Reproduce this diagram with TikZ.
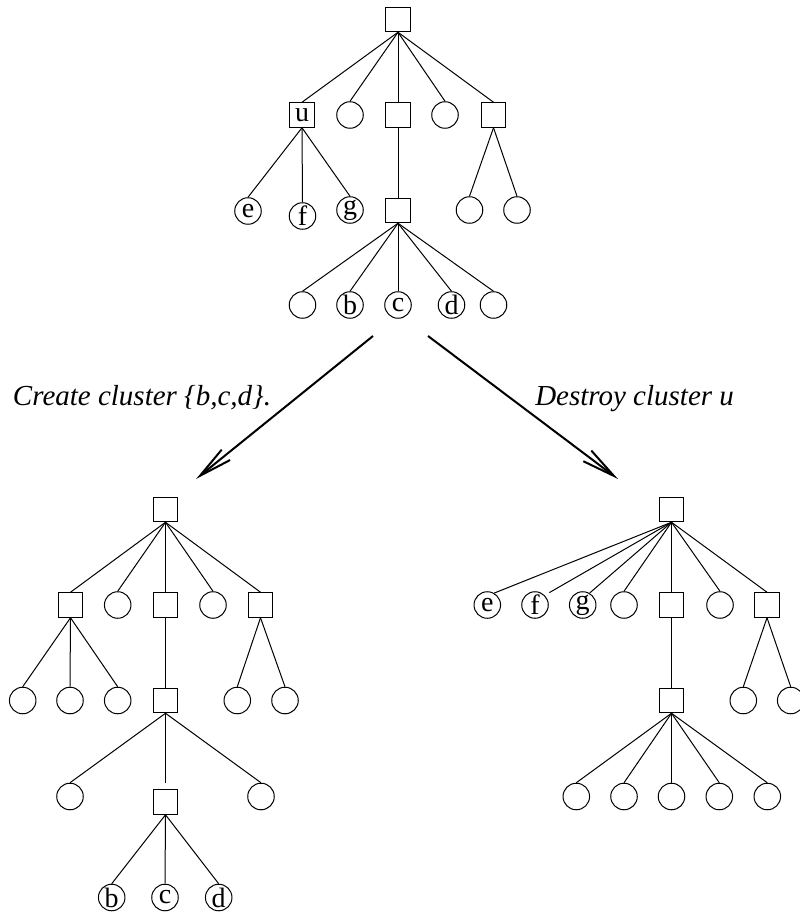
\documentclass[tikz,border=0pt]{standalone}
\usepackage{fontspec}
\setmainfont{Liberation Serif}
\newfontfamily\treefont{Liberation Serif}
\usetikzlibrary{arrows.meta}

\tikzset{
  leaf/.style={draw, line width=0.75pt, circle, minimum size=19.9pt, inner sep=0pt,
    font=\treefont\fontsize{21pt}{21pt}\selectfont},
  clus/.style={draw, line width=0.75pt, rectangle, minimum size=18.4pt, inner sep=0pt,
    font=\treefont\fontsize{21pt}{21pt}\selectfont},
  edge/.style={line width=0.75pt},
  flow/.style={line width=1.5pt, -{Straight Barb[length=25pt,width=10pt,line width=1.5pt]}},
  lbl/.style={font=\treefont\fontsize{21.75pt}{24pt}\selectfont\itshape, inner sep=0pt, anchor=base west}
}

\begin{document}
\begin{tikzpicture}[x=0.75pt, y=-0.75pt]
  \useasboundingbox (0,0) rectangle (799,916);

  % top tree
  \node[clus] (t) at (398,19.5) {};
  \node[clus] (tu) at (302,115) {u};
  \node[leaf] (t1) at (350,115) {};
  \node[clus] (t2) at (398,115) {};
  \node[leaf] (t3) at (445,115) {};
  \node[clus] (t4) at (493.5,115) {};
  \node[leaf] (te) at (248,211) {e};
  \node[leaf] (tf) at (302.5,216) {f};
  \node[leaf] (tg) at (350,210) {g};
  \node[clus] (t5) at (398,210.5) {};
  \node[leaf] (t6) at (469.5,210) {};
  \node[leaf] (t7) at (517,210) {};
  \node[leaf] (t8) at (302.5,305) {};
  \node[leaf] (tb) at (350,305) {b};
  \node[leaf] (tc) at (398,305) {c};
  \node[leaf] (td) at (451.5,305) {d};
  \node[leaf] (t9) at (493.5,305) {};
  \foreach \c in {tu,t1,t2,t3,t4} {\draw[edge] (t.south) -- (\c.north);}
  \foreach \c in {te,tf,tg} {\draw[edge] (tu.south) -- (\c.north);}
  \draw[edge] (t2.south) -- (t5.north);
  \foreach \c in {t6,t7} {\draw[edge] (t4.south) -- (\c.north);}
  \foreach \c in {t8,tb,tc,td,t9} {\draw[edge] (t5.south) -- (\c.north);}

  % the two moves
  \coordinate (ls) at (373,336);
  \coordinate (le) at (196,479);
  \coordinate (rs) at (428,336);
  \coordinate (re) at (618,479);
  \draw[flow] (ls) -- (le);
  \draw[flow] (rs) -- (re);
  \node[lbl] (lc) at (12.7,405) {Create cluster \{b,c,d\}.};
  \node[lbl] (ld) at (535,405) {Destroy cluster u};

  % left result
  \node[clus] (l) at (165.5,509.5) {};
  \node[clus] (l1) at (70.5,605) {};
  \node[leaf] (l2) at (117.7,605) {};
  \node[clus] (l3) at (165.5,605) {};
  \node[leaf] (l4) at (213,605) {};
  \node[clus] (l5) at (260.5,605) {};
  \node[leaf] (l6) at (22.7,700.5) {};
  \node[leaf] (l7) at (70,700.5) {};
  \node[leaf] (l8) at (117.7,700.5) {};
  \node[clus] (l9) at (165.5,700.5) {};
  \node[leaf] (l10) at (237.3,700.5) {};
  \node[leaf] (l11) at (285,700.5) {};
  \node[leaf] (l12) at (70,796.5) {};
  \node[clus] (l13) at (165.5,802) {};
  \node[leaf] (l14) at (261,796.5) {};
  \node[leaf] (lb) at (111.7,897.5) {b};
  \node[leaf] (lc2) at (165,897.5) {c};
  \node[leaf] (ld2) at (218.7,897.5) {d};
  \foreach \c in {l1,l2,l3,l4,l5} {\draw[edge] (l.south) -- (\c.north);}
  \foreach \c in {l6,l7,l8} {\draw[edge] (l1.south) -- (\c.north);}
  \draw[edge] (l3.south) -- (l9.north);
  \foreach \c in {l10,l11} {\draw[edge] (l5.south) -- (\c.north);}
  \foreach \c in {l12,l14} {\draw[edge] (l9.south) -- (\c.north);}
  \draw[edge, shorten >=4.5pt] (l9.south) -- (l13.north);
  \foreach \c in {lb,lc2,ld2} {\draw[edge] (l13.south) -- (\c.north);}

  % right result
  \node[clus] (r) at (671.5,509.5) {};
  \node[leaf] (re1) at (487.3,605) {e};
  \node[leaf] (rf) at (535,605) {f};
  \node[leaf] (rg) at (582.7,605) {g};
  \node[leaf] (r1) at (624,605) {};
  \node[clus] (r2) at (671.5,605) {};
  \node[leaf] (r3) at (720,605) {};
  \node[clus] (r4) at (767,605) {};
  \node[clus] (r5) at (671.5,700.5) {};
  \node[leaf] (r6) at (743.3,700.5) {};
  \node[leaf] (r7) at (790.7,700.5) {};
  \foreach \x [count=\i] in {576.3,624,671.5,719.3,767.3} {\node[leaf] (rr\i) at (\x,796.5) {};}
  \draw[edge] (r.south) -- (re1.60);
  \draw[edge, shorten >=4pt] (r.south) -- (rf.north east);
  \draw[edge] (r.south) -- (rg.60);
  \foreach \c in {r1,r2,r3,r4} {\draw[edge] (r.south) -- (\c.north);}
  \draw[edge] (r2.south) -- (r5.north);
  \foreach \c in {r6,r7} {\draw[edge] (r4.south) -- (\c.north);}
  \foreach \i in {1,...,5} {\draw[edge] (r5.south) -- (rr\i.north);}
\end{tikzpicture}
\end{document}
